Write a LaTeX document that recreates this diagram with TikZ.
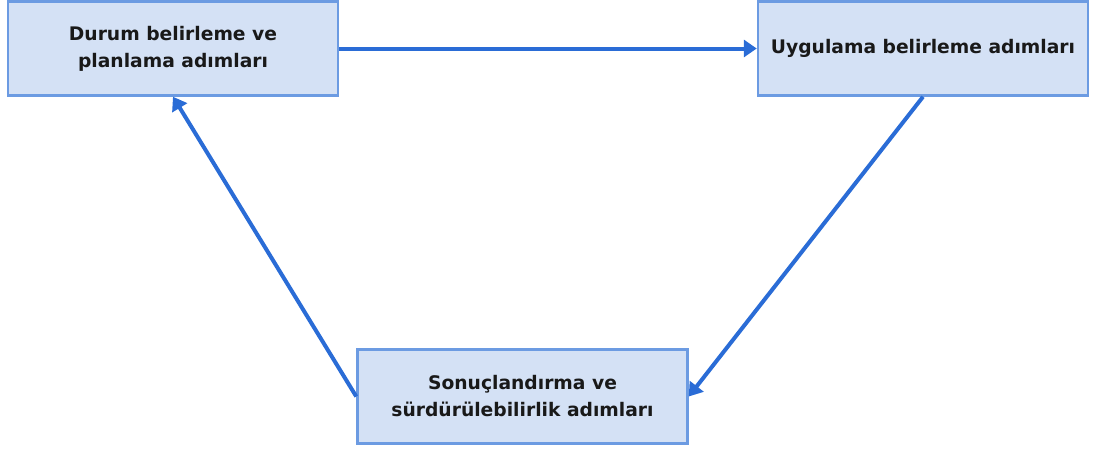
\documentclass[tikz,border=0pt]{standalone}
\usepackage{fontspec}
\setmainfont{DejaVu Sans}
\usetikzlibrary{arrows.meta}
\definecolor{boxfill}{RGB}{212,225,245}
\definecolor{boxline}{RGB}{108,155,226}
\definecolor{arrowcol}{RGB}{42,108,214}
\tikzset{
  stepbox/.style={draw=boxline, line width=2.5pt, fill=boxfill, minimum width=330pt, minimum height=94pt, inner sep=0pt, align=center, font=\bfseries\fontsize{18.7}{27}\selectfont, text=black!90},
  flow/.style={draw=arrowcol, line width=4pt, -{Triangle[length=13pt,width=17pt]}}
}
\begin{document}
\begin{tikzpicture}[x=1pt,y=1pt]
\useasboundingbox (0,0) rectangle (1094,-448);
\node[stepbox] (A) at (173,-48.5) {Durum belirleme ve\\planlama adımları};
\node[stepbox] (B) at (923,-48.5) {Uygulama belirleme adımları};
\node[stepbox] (C) at (522.5,-396.5) {Sonuçlandırma ve\\sürdürülebilirlik adımları};
\draw[flow] (A.east) -- (B.west);
\draw[flow] (B.south) -- (C.east);
\draw[flow] (C.west) -- (A.south);
\end{tikzpicture}
\end{document}
